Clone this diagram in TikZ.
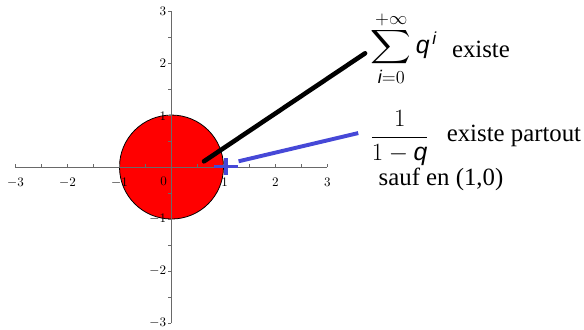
\RequirePackage{fix-cm}
\documentclass[tikz,border=0pt]{standalone}
\usepackage{exscale}
\usepackage{amsmath}
\usepackage{fontspec}
\setmainfont{Liberation Serif}
\setsansfont{Liberation Sans}
\newcommand{\QSv}[1]{\textsf{\itshape #1}}
\newcommand{\QSlim}[1]{\mbox{\fontsize{14}{16}\selectfont$#1$}}

\begin{document}
\begin{tikzpicture}[x=1.4cm,y=1.4cm]

  % ---- colours ----
  \definecolor{QSAxis}{RGB}{105,105,105}
  \definecolor{QSBlue}{RGB}{70,72,215}

  % ---- frame (keeps the margins of the figure) ----
  \useasboundingbox (-3.298,-3.115) rectangle (7.933,3.212);

  % ---- styles ----
  \tikzset{
    ticklabel/.style={font=\fontsize{10}{12}\selectfont, inner sep=0pt},
    bigtext/.style={font=\fontsize{19}{23}\selectfont, inner sep=0pt},
    axisline/.style={QSAxis, line width=0.8pt},
  }

  % ---- disc ----
  \filldraw[fill=red, draw=black, line width=0.6pt] (0,0) circle (1);

  % ---- axes ----
  \draw[axisline] (-3,0) -- (3,0);
  \draw[axisline] (0,-3) -- (0,3);
  \foreach \t in {-3,-2.5,...,3} {
    \draw[axisline, line width=0.6pt] (\t,0) -- (\t,0.06);
    \draw[axisline, line width=0.6pt] (0,\t) -- (-0.06,\t);
  }

  % ---- tick labels ----
  \node[ticklabel] (xm3) at (-3,-0.3) {$-3$};
  \node[ticklabel] (xm2) at (-2,-0.3) {$-2$};
  \node[ticklabel] (xm1) at (-1,-0.3) {$-1$};
  \node[ticklabel] (x0)  at (-0.15,-0.27) {$0$};
  \node[ticklabel] (x1)  at (1.02,-0.3) {$1$};
  \node[ticklabel] (x2)  at (2,-0.3) {$2$};
  \node[ticklabel] (x3)  at (3,-0.3) {$3$};

  \node[ticklabel, anchor=east] (y3)  at (-0.1,3) {$3$};
  \node[ticklabel, anchor=east] (y2)  at (-0.1,2) {$2$};
  \node[ticklabel, anchor=east] (y1)  at (-0.1,0.98) {$1$};
  \node[ticklabel, anchor=east] (ym1) at (-0.1,-1) {$-1$};
  \node[ticklabel, anchor=east] (ym2) at (-0.1,-2) {$-2$};
  \node[ticklabel, anchor=east] (ym3) at (-0.1,-3) {$-3$};

  % ---- the point (1,0) ----
  \coordinate (pole) at (1.05,0.01);
  \draw[QSBlue, line width=3pt] (pole) ++(-0.23,0) -- ++(0.46,0)
                                (pole) ++(0,0.16) -- ++(0,-0.32);

  % ---- texts ----
  \node[bigtext, anchor=west] (serie) at (3.83,2.28)
    {$\mathop{\scalebox{1.25}[1.05]{$\displaystyle\sum$}}\limits_{\QSlim{\QSv{i}{=}0}}^{\QSlim{+\infty}}\QSv{q}^{\,\QSv{i}}$};
  \node[bigtext, anchor=base west] (existe) at (5.39,2.10) {existe};

  \node[bigtext, anchor=west] (quotient) at (3.82,0.56)
    {$\dfrac{1}{1-\QSv{q}}$};
  \node[bigtext, anchor=base west] (partout) at (5.29,0.49) {existe partout};
  \node[bigtext, anchor=base west] (sauf) at (3.98,-0.35) {sauf en (1,0)};

  % ---- connectors ----
  \coordinate (blackfoot) at (0.625,0.11);
  \coordinate (bluefoot) at (1.29,0.11);
  \draw[line width=3.5pt, line cap=round] (blackfoot) -- ([shift={(-0.15cm,-0.13cm)}]serie.west);
  \draw[QSBlue, line width=3pt] (bluefoot) -- ([shift={(-0.32cm,0.13cm)}]quotient.west);

\end{tikzpicture}
\end{document}
